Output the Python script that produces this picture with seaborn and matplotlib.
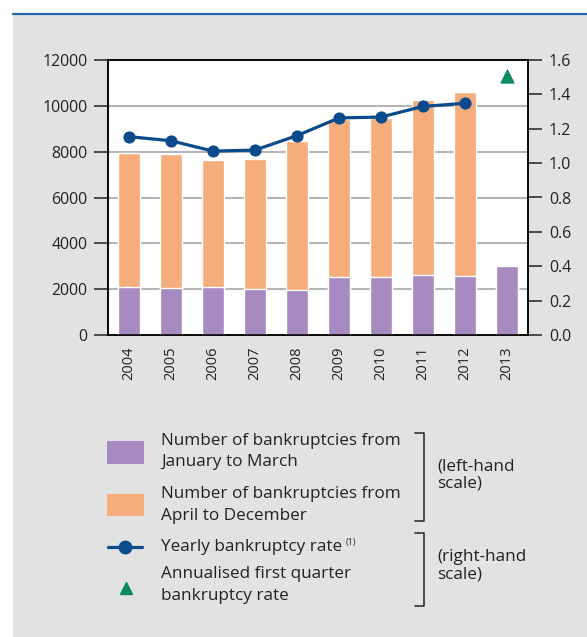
import numpy as np
import pandas as pd
import matplotlib
matplotlib.use("Agg")
import matplotlib.pyplot as plt
from matplotlib.patches import Rectangle
from matplotlib.lines import Line2D
import seaborn as sns

# data
years = ['2004', '2005', '2006', '2007', '2008', '2009', '2010', '2011', '2012', '2013']
jan_mar = [2100, 2050, 2100, 2000, 1980, 2530, 2530, 2620, 2575, 3010]
apr_dec = [5840, 5850, 5540, 5680, 6480, 6900, 6950, 7640, 8030, 0]
yearly_rate = [1.154, 1.13, 1.07, 1.076, 1.16, 1.263, 1.268, 1.33, 1.348]
annualised_q1_rate = 1.507

purple = '#a68ac0'
orange = '#f5ae7b'
navy = '#0b4a8b'
green = '#0a8a5e'
grey_bg = '#e2e2e2'

sns.set_style("white")
plt.rcParams['font.family'] = ['Open Sans', 'DejaVu Sans']

df = pd.DataFrame({'year': years, 'q1': jan_mar, 'rest': apr_dec})
df['total'] = df['q1'] + df['rest']

W, H = 587, 637
fig = plt.figure(figsize=(W / 100, H / 100), dpi=100)
fig.patch.set_facecolor('white')
# grey panel + blue rule at the top
fig.patches.append(Rectangle((13 / W, 0), 1 - 13 / W, 1 - 14 / H, transform=fig.transFigure,
                             facecolor=grey_bg, edgecolor='none', zorder=-10))
fig.lines.append(Line2D([13 / W, 1], [1 - 14 / H, 1 - 14 / H], transform=fig.transFigure,
                        color='#2463a6', lw=1.6))

ax = fig.add_axes([108 / W, 1 - 335 / H, 420 / W, 275 / H])
ax.set_facecolor('white')

sns.barplot(data=df, x='year', y='total', color=orange, width=0.52, saturation=1,
            ax=ax, zorder=2)
sns.barplot(data=df, x='year', y='q1', color=purple, width=0.52, saturation=1,
            ax=ax, zorder=3)

ax.set_xlim(-0.5, 9.5)
ax.set_ylim(0, 12000)
ax.set_yticks(range(0, 12001, 2000))
ax.set_xlabel('')
ax.set_ylabel('')
for v in range(2000, 12000, 2000):
    ax.axhline(v, color='#b5b5b5', lw=1.5, zorder=1)

ax.tick_params(axis='y', direction='out', length=10, width=1.1, labelsize=11.4,
               pad=5, colors='#222222', left=True)
ax.tick_params(axis='x', which='major', length=0, labelsize=10.5, pad=8,
               labelrotation=90, labelcolor='#222222')
ax.set_xticks(np.arange(0.5, 9, 1), minor=True)
ax.tick_params(axis='x', which='minor', direction='in', length=8, width=1.1, color='black')
for s in ax.spines.values():
    s.set_color('black')
    s.set_linewidth(1.1)

ax2 = ax.twinx()
sns.lineplot(x=np.arange(len(yearly_rate)), y=yearly_rate, ax=ax2, color=navy, lw=2.3,
             marker='o', markersize=8, markeredgecolor=navy, zorder=5)
sns.scatterplot(x=[len(years) - 1], y=[annualised_q1_rate], ax=ax2, marker='^', s=90,
                color=green, edgecolor=green, zorder=5)
ax2.set_ylim(0, 1.6)
ax2.set_yticks(np.arange(0, 1.61, 0.2))
ax2.set_yticklabels([f'{v:.1f}' for v in np.arange(0, 1.61, 0.2)])
ax2.tick_params(axis='y', direction='out', length=10, width=1.1, labelsize=11.4,
                pad=5, colors='#222222', right=True)
for s in ax2.spines.values():
    s.set_color('black')
    s.set_linewidth(1.1)
ax.set_xlim(-0.5, 9.5)

# legend drawn by hand
def fx(x):
    return x / W

def fy(y):
    return 1 - y / H

txt = dict(fontsize=12.3, color='#222222', va='center', ha='left', transform=fig.transFigure)
fig.patches.append(Rectangle((fx(107), fy(464)), fx(37), 23 / H, transform=fig.transFigure,
                             facecolor=purple, edgecolor='none'))
fig.patches.append(Rectangle((fx(107), fy(516)), fx(37), 22 / H, transform=fig.transFigure,
                             facecolor=orange, edgecolor='none'))
fig.text(fx(161), fy(441), 'Number of bankruptcies from', **txt)
fig.text(fx(161), fy(462), 'January to March', **txt)
fig.text(fx(161), fy(494), 'Number of bankruptcies from', **txt)
fig.text(fx(161), fy(516), 'April to December', **txt)
fig.lines.append(Line2D([fx(108), fx(142)], [fy(547), fy(547)], transform=fig.transFigure,
                        color=navy, lw=2.3))
fig.lines.append(Line2D([fx(125)], [fy(547)], transform=fig.transFigure,
                        color=navy, marker='o', markersize=9, lw=0))
yearly = fig.text(fx(161), fy(547), 'Yearly bankruptcy rate', **txt)
fig.text(fx(161), fy(574), 'Annualised first quarter', **txt)
fig.text(fx(161), fy(596), 'bankruptcy rate', **txt)
fig.lines.append(Line2D([fx(126)], [fy(588)], transform=fig.transFigure,
                        color=green, marker='^', markersize=9, lw=0))

for top, bot in [(433, 521), (533, 606)]:
    fig.lines.append(Line2D([fx(415), fx(424), fx(424), fx(415)],
                            [fy(top), fy(top), fy(bot), fy(bot)],
                            transform=fig.transFigure, color='#222222', lw=1.1))
fig.text(fx(437), fy(475), '(left-hand\nscale)', linespacing=1.1, **txt)
fig.text(fx(437), fy(566), '(right-hand\nscale)', linespacing=1.1, **txt)

# superscript note right after the yearly-rate label
fig.canvas.draw()
bb = yearly.get_window_extent()
fig.text((bb.x1 + 4) / W, fy(542), '(1)', fontsize=6.5, color='#222222', va='center',
         ha='left', transform=fig.transFigure)

fig.savefig('out.png', dpi=100, facecolor=fig.get_facecolor())
